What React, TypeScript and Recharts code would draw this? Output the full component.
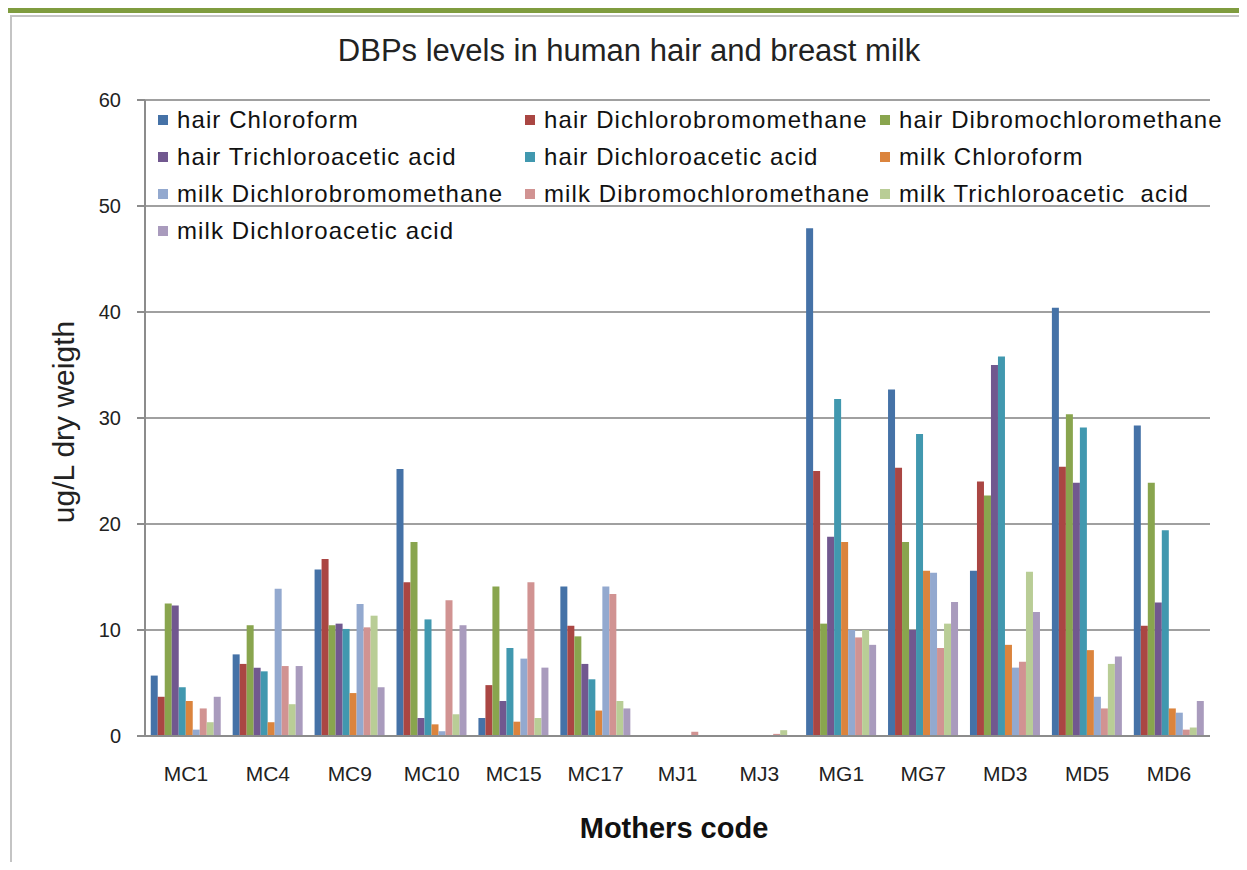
import { Bar, BarChart, CartesianGrid, XAxis, YAxis } from "recharts";

const mothers = ["MC1", "MC4", "MC9", "MC10", "MC15", "MC17", "MJ1", "MJ3", "MG1", "MG7", "MD3", "MD5", "MD6"];

const hairChloroform = [5.7, 7.7, 15.7, 25.2, 1.7, 14.1, 0, 0, 47.9, 32.7, 15.6, 40.4, 29.3];
const hairDichlorobromomethane = [3.7, 6.8, 16.7, 14.5, 4.8, 10.4, 0, 0, 25.0, 25.3, 24.0, 25.4, 10.4];
const hairDibromochloromethane = [12.5, 10.45, 10.45, 18.3, 14.1, 9.4, 0, 0, 10.6, 18.3, 22.7, 30.35, 23.9];
const hairTrichloroacetic = [12.3, 6.45, 10.6, 1.7, 3.3, 6.8, 0, 0, 18.8, 10.0, 35.0, 23.9, 12.6];
const hairDichloroacetic = [4.6, 6.1, 10.1, 11.0, 8.3, 5.35, 0, 0, 31.8, 28.5, 35.8, 29.1, 19.4];
const milkChloroform = [3.3, 1.3, 4.05, 1.1, 1.35, 2.4, 0, 0, 18.3, 15.6, 8.6, 8.1, 2.6];
const milkDichlorobromomethane = [0.6, 13.9, 12.45, 0.45, 7.3, 14.1, 0, 0, 10.0, 15.4, 6.45, 3.7, 2.2];
const milkDibromochloromethane = [2.6, 6.6, 10.25, 12.8, 14.5, 13.4, 0.4, 0.2, 9.3, 8.3, 7.0, 2.6, 0.6];
const milkTrichloroacetic = [1.3, 3.0, 11.35, 2.05, 1.7, 3.3, 0, 0.55, 10.0, 10.6, 15.5, 6.8, 0.8];
const milkDichloroacetic = [3.7, 6.6, 4.6, 10.45, 6.45, 2.6, 0, 0, 8.6, 12.65, 11.7, 7.5, 3.3];

const yTicks = [0, 10, 20, 30, 40, 50, 60];

const series = [
  { key: "s0", name: "hair Chloroform", values: hairChloroform, color: "#4572A7" },
  { key: "s1", name: "hair Dichlorobromomethane", values: hairDichlorobromomethane, color: "#AA4643" },
  { key: "s2", name: "hair Dibromochloromethane", values: hairDibromochloromethane, color: "#89A54E" },
  { key: "s3", name: "hair Trichloroacetic acid", values: hairTrichloroacetic, color: "#71588F" },
  { key: "s4", name: "hair Dichloroacetic acid", values: hairDichloroacetic, color: "#4198AF" },
  { key: "s5", name: "milk Chloroform", values: milkChloroform, color: "#DB843D" },
  { key: "s6", name: "milk Dichlorobromomethane", values: milkDichlorobromomethane, color: "#93A9CF" },
  { key: "s7", name: "milk Dibromochloromethane", values: milkDibromochloromethane, color: "#D19392" },
  { key: "s8", name: "milk Trichloroacetic  acid", values: milkTrichloroacetic, color: "#B9CD96" },
  { key: "s9", name: "milk Dichloroacetic acid", values: milkDichloroacetic, color: "#A99BBD" },
];

const data = mothers.map((m, i) => {
  const row: Record<string, string | number> = { name: m };
  for (const s of series) row[s.key] = s.values[i];
  return row;
});

const font = '"Liberation Sans", Arial, sans-serif';
const legendCols = [158, 525, 880];

export default function App() {
  return (
    <div
      style={{
        position: "relative",
        width: 1247,
        height: 870,
        margin: -8,
        overflow: "hidden",
        background: "#fff",
        fontFamily: font,
      }}
    >
      <div style={{ position: "absolute", left: 0, top: 8, width: 1247, height: 5, background: "#7f9c3f" }} />
      <div
        style={{
          position: "absolute",
          left: 10,
          top: 15,
          width: 1260,
          height: 880,
          border: "2px solid #c4c4c4",
          boxSizing: "border-box",
        }}
      />
      <div
        style={{
          position: "absolute",
          left: 0,
          top: 33,
          width: 1258,
          textAlign: "center",
          fontSize: 31,
          color: "#222",
        }}
      >
        DBPs levels in human hair and breast milk
      </div>

      <div style={{ position: "absolute", left: 0, top: 0 }}>
        <BarChart
          width={1247}
          height={870}
          data={data}
          margin={{ top: 100, right: 37, bottom: 74, left: 0 }}
          barCategoryGap="7%"
          barGap={0}
        >
          <CartesianGrid vertical={false} stroke="#a0a0a0" strokeWidth={2} />
          <XAxis
            dataKey="name"
            height={60}
            tickLine={false}
            tickSize={0}
            tickMargin={30}
            axisLine={{ stroke: "#8c8c8c", strokeWidth: 2 }}
            tick={{ fontSize: 21, fill: "#222", fontFamily: font }}
            interval={0}
          />
          <YAxis
            width={145}
            domain={[0, 60]}
            ticks={yTicks}
            tickSize={8}
            tickMargin={16}
            axisLine={{ stroke: "#8c8c8c", strokeWidth: 2 }}
            tickLine={{ stroke: "#8c8c8c", strokeWidth: 2 }}
            tick={{ fontSize: 20, fill: "#222", fontFamily: font }}
          />
          {series.map((s) => (
            <Bar key={s.key} dataKey={s.key} name={s.name} fill={s.color} isAnimationActive={false} />
          ))}
        </BarChart>
      </div>

      {series.map((s, i) => {
        const col = i % 3;
        const row = Math.floor(i / 3);
        return (
          <div
            key={s.key}
            style={{
              position: "absolute",
              left: legendCols[col],
              top: 120 + row * 37 - 15,
              height: 30,
              display: "flex",
              alignItems: "center",
              whiteSpace: "pre",
              fontSize: 24,
              letterSpacing: 1.1,
              color: "#111",
            }}
          >
            <span style={{ width: 10, height: 10, background: s.color, marginRight: 9, display: "inline-block" }} />
            {s.name}
          </div>
        );
      })}

      <div
        style={{
          position: "absolute",
          left: 64 - 150,
          top: 422 - 18,
          width: 300,
          height: 36,
          lineHeight: "36px",
          textAlign: "center",
          fontSize: 30,
          color: "#222",
          transform: "rotate(-90deg)",
        }}
      >
        ug/L dry weigth
      </div>
      <div
        style={{
          position: "absolute",
          left: 674 - 200,
          top: 812,
          width: 400,
          textAlign: "center",
          fontSize: 29,
          fontWeight: "bold",
          color: "#111",
        }}
      >
        Mothers code
      </div>
    </div>
  );
}
